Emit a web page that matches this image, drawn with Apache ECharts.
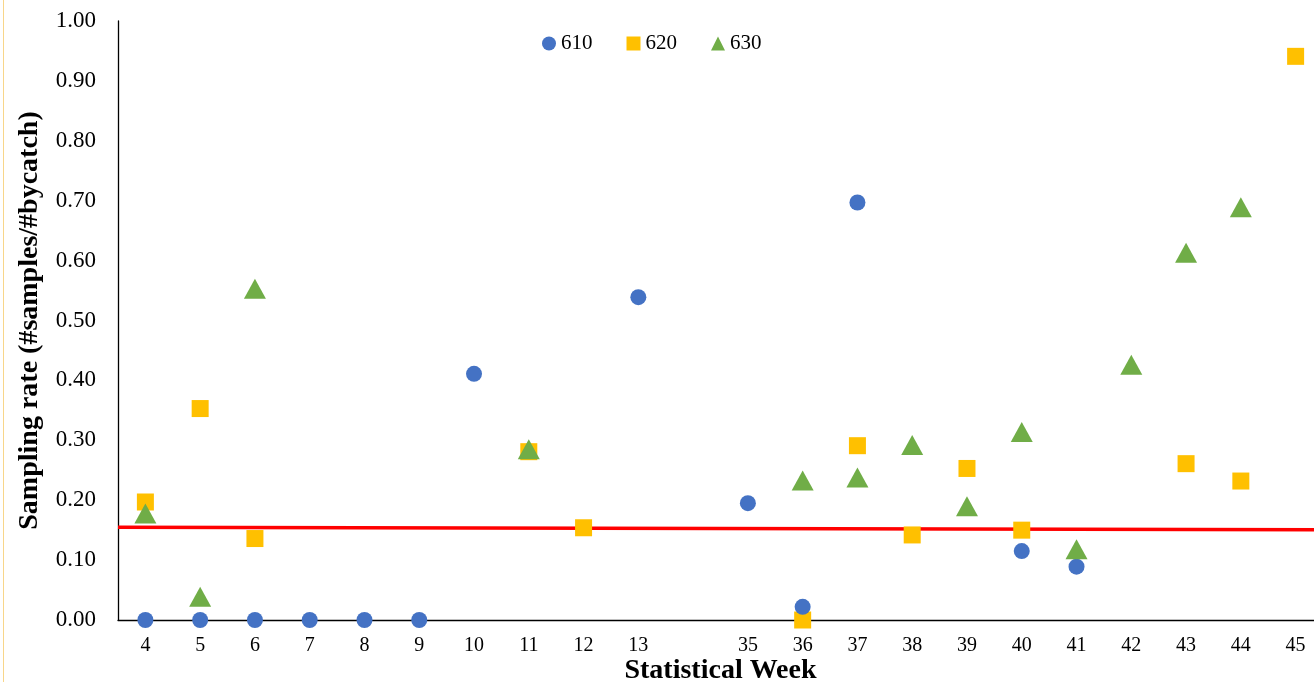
<!DOCTYPE html>
<html>
<head>
<meta charset="utf-8">
<script src="https://cdn.jsdelivr.net/npm/echarts@6/dist/echarts.min.js"></script>
<style>
html,body{margin:0;padding:0;background:#fff;overflow:hidden;}
#c{width:1314px;height:682px;}
</style>
</head>
<body>
<div id="c"></div>
<script>
var weeks = ['4','5','6','7','8','9','10','11','12','13','','35','36','37','38','39','40','41','42','43','44','45'];
var s610 = [0,0,0,0,0,0,0.411,null,null,0.539,null,0.195,0.022,0.697,null,null,0.115,0.089,null,null,null,null];
var s620 = [0.197,0.353,0.136,null,null,null,null,0.281,0.154,null,null,null,0,0.291,0.142,0.253,0.150,null,null,0.261,0.232,0.941];
var s630 = [0.178,0.039,0.553,null,null,null,null,0.285,null,null,null,null,0.233,0.238,0.292,0.190,0.314,0.118,0.426,0.613,0.689,null];
var trendX = [0, 22];
var trendY = [0.155, 0.1505];
var yTicks = [0,1,0.1];

var serif = '"Liberation Serif","DejaVu Serif",serif';
var chart = echarts.init(document.getElementById('c'));
chart.setOption({
  animation:false,
  backgroundColor:'#fff',
  grid:{left:118,right:-9,top:21,bottom:62,containLabel:false,outerBoundsMode:'none'},
  legend:{
    top:28,left:537,itemGap:34,itemWidth:14,itemHeight:14,
    textStyle:{fontFamily:serif,fontSize:21,color:'#000'},
    data:[{name:'610',icon:'circle'},{name:'620',icon:'rect'},{name:'630',icon:'triangle'}]
  },
  graphic:[{type:'line',shape:{x1:3.5,y1:0,x2:3.5,y2:682},style:{stroke:'#F8D68A',lineWidth:1},silent:true}],
  xAxis:[{
    type:'category',data:weeks,boundaryGap:true,
    name:'Statistical Week',nameLocation:'middle',nameGap:37,nameMoveOverlap:false,
    nameTextStyle:{fontFamily:serif,fontSize:28,fontWeight:'bold',color:'#000'},
    axisLine:{lineStyle:{color:'#000',width:1.3}},
    axisTick:{inside:true,length:6,lineStyle:{color:'#000'}},
    axisLabel:{fontFamily:serif,fontSize:20,color:'#000',margin:16,interval:0},
    splitLine:{show:false}
  },{
    type:'value',min:trendX[0],max:trendX[1],show:false
  }],
  yAxis:{
    type:'value',min:yTicks[0],max:yTicks[1],interval:yTicks[2],
    name:'Sampling rate (#samples/#bycatch)',nameLocation:'middle',nameGap:74,nameMoveOverlap:false,
    nameTextStyle:{fontFamily:serif,fontSize:28,fontWeight:'bold',color:'#000'},
    axisLine:{show:true,lineStyle:{color:'#000',width:1.3}},
    axisTick:{show:false},
    axisLabel:{fontFamily:serif,fontSize:23,color:'#000',margin:22,formatter:function(v){return v.toFixed(2);}},
    splitLine:{show:false}
  },
  series:[
    {name:'trend',type:'line',xAxisIndex:1,data:[[trendX[0],trendY[0]],[trendX[1],trendY[1]]],symbol:'none',lineStyle:{color:'#FF0000',width:3.5},silent:true,z:1},
    {name:'610',type:'scatter',data:s610,symbol:'circle',symbolSize:16,itemStyle:{color:'#4472C4',opacity:1},z:3},
    {name:'620',type:'scatter',data:s620,symbol:'rect',symbolSize:17,itemStyle:{color:'#FFC000',opacity:1},z:2},
    {name:'630',type:'scatter',data:s630,symbol:'triangle',symbolSize:[22,20],itemStyle:{color:'#70AD47',opacity:1},z:4}
  ]
});
</script>
</body>
</html>
